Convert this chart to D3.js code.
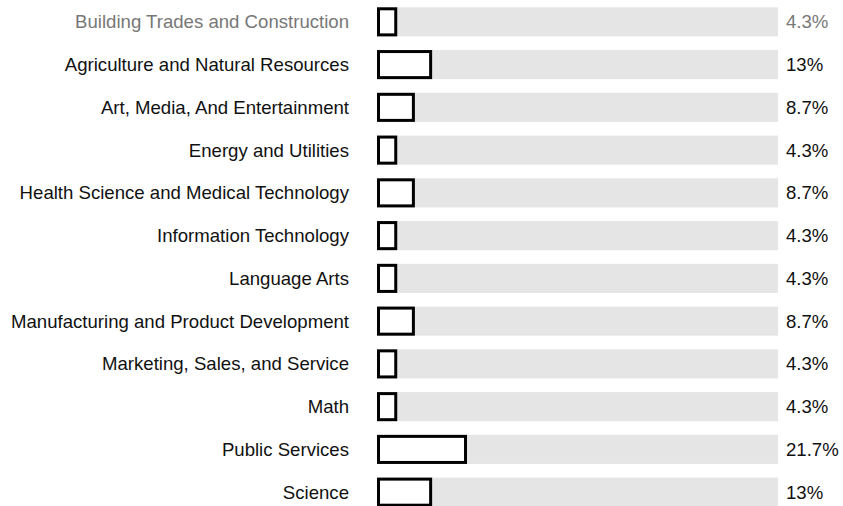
<!DOCTYPE html>
<html>
<head>
<meta charset="utf-8">
<script src="https://cdn.jsdelivr.net/npm/d3@7"></script>
<style>
  body { margin: 0; background: #fff; }
  svg { display: block; font-family: "Liberation Sans", Arial, sans-serif; }
</style>
</head>
<body>
<svg id="chart" width="843" height="506"></svg>
<script>
const categories = [
  "Building Trades and Construction",
  "Agriculture and Natural Resources",
  "Art, Media, And Entertainment",
  "Energy and Utilities",
  "Health Science and Medical Technology",
  "Information Technology",
  "Language Arts",
  "Manufacturing and Product Development",
  "Marketing, Sales, and Service",
  "Math",
  "Public Services",
  "Science"
];
const values = [4.3, 13, 8.7, 4.3, 8.7, 4.3, 4.3, 8.7, 4.3, 4.3, 21.7, 13];
const valueLabels = ["4.3%", "13%", "8.7%", "4.3%", "8.7%", "4.3%", "4.3%", "8.7%", "4.3%", "4.3%", "21.7%", "13%"];
const highlighted = 0;

const svg = d3.select("#chart");
const x = d3.scaleLinear().domain([0, 100]).range([377, 778]);
const y = d3.scaleBand().domain(categories).range([7.3, 506.7]).paddingInner(0.32).paddingOuter(0);

const rows = svg.selectAll("g.row").data(categories).join("g").attr("class", "row");

rows.append("rect")
  .attr("x", x(0))
  .attr("y", d => y(d))
  .attr("width", x(100) - x(0))
  .attr("height", y.bandwidth())
  .attr("fill", "#e5e5e5");

rows.append("rect")
  .attr("x", x(0) + 1.5)
  .attr("y", d => y(d) + 1.5)
  .attr("width", (d, i) => x(values[i]) - x(0))
  .attr("height", y.bandwidth() - 3)
  .attr("fill", "#fff")
  .attr("stroke", "#000")
  .attr("stroke-width", 3);

rows.append("text")
  .attr("x", 349)
  .attr("y", d => y(d) + y.bandwidth() / 2)
  .attr("dy", "0.35em")
  .attr("text-anchor", "end")
  .attr("font-size", 18.6)
  .attr("fill", (d, i) => i === highlighted ? "#777" : "#111")
  .text(d => d);

rows.append("text")
  .attr("x", 786)
  .attr("y", d => y(d) + y.bandwidth() / 2)
  .attr("dy", "0.35em")
  .attr("font-size", 18.6)
  .attr("fill", (d, i) => i === highlighted ? "#777" : "#111")
  .text((d, i) => valueLabels[i]);
</script>
</body>
</html>
